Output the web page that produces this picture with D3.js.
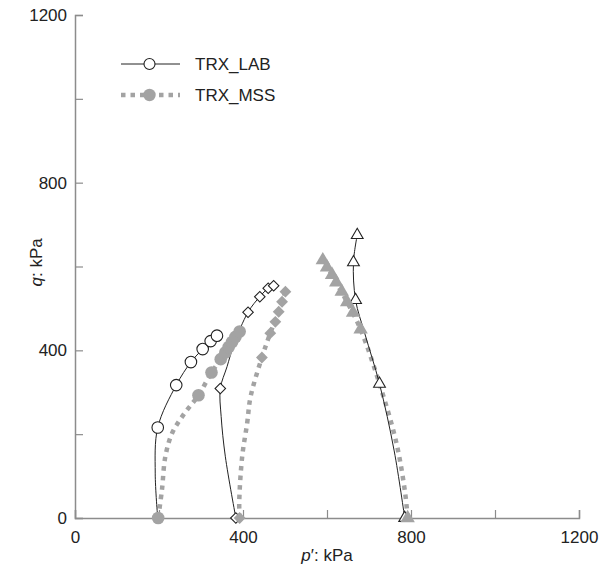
<!DOCTYPE html>
<html>
<head>
<meta charset="utf-8">
<script src="https://cdn.jsdelivr.net/npm/d3@7"></script>
<style>
  body { margin: 0; background: #fff; }
  svg { font-family: "Liberation Sans", Arial, sans-serif; }
</style>
</head>
<body>
<svg id="chart" width="600" height="570"></svg>
<script>
// markers, [p', q] in kPa
const labCircles = [[197, 216], [241, 317], [276, 372], [304, 403], [323, 422], [338, 435]];
const labDiamonds = [[383, 0], [346, 309], [412, 491], [440, 528], [460, 548], [473, 554]];
const labTriangles = [[785, 0], [725, 320], [668, 520], [663, 610], [672, 675]];
const mssCircles = [[198, 0], [294, 293], [325, 347], [347, 379], [358, 395], [366, 408], [374, 420], [382, 432], [392, 445]];
const mssDiamonds = [[392, 0], [445, 383], [465, 441], [477, 468], [485, 492], [493, 516], [501, 540]];
const mssTriangles = [[792, 0], [680, 450], [662, 490], [648, 515], [635, 540], [622, 562], [612, 580], [600, 598], [590, 615]];

// curves
const labCirclesCurve = [[197, 0], [191, 107], [197, 216], [241, 317], [276, 372], [304, 403], [323, 422], [338, 435]];
const labDiamondsCurve = [[383, 0], [358, 146], [348, 242], [346, 309], [362, 361], [378, 413], [412, 491], [440, 528], [460, 548], [473, 554]];
const labTrianglesCurve = [[785, 0], [760, 160], [725, 320], [690, 440], [668, 520], [663, 610], [672, 675]];
const mssCirclesCurve = [[198, 0], [207, 67], [215, 146], [231, 202], [258, 246], [294, 293], [325, 347], [347, 379], [392, 445]];
const mssDiamondsCurve = [[392, 0], [391, 36], [398, 146], [410, 227], [418, 289], [445, 383], [465, 441], [485, 492], [501, 540]];
const mssTrianglesCurve = [[792, 0], [786, 60], [765, 180], [725, 320], [680, 450], [648, 515], [622, 562], [590, 620]];

const xTicks = [0, 200, 400, 600, 800, 1000, 1200];
const yTicks = [0, 200, 400, 600, 800, 1000, 1200];
const legendNames = ["TRX_LAB", "TRX_MSS"];

const svg = d3.select("#chart");
const layout = { left: 75, right: 579, top: 15, bottom: 518 };

const x = d3.scaleLinear().domain([0, 1200]).range([layout.left, layout.right]);
const y = d3.scaleLinear().domain([0, 1200]).range([layout.bottom, layout.top]);

const axisColor = "#8c8c8c";
const grayColor = "#a3a3a3";
const labelFmt = d => (d % 400 === 0 ? d : "");

// axes
const xAxis = svg.append("g")
    .attr("transform", "translate(0," + layout.bottom + ")")
    .call(d3.axisBottom(x).tickValues(xTicks).tickSize(-8).tickPadding(20).tickFormat(labelFmt));
const yAxis = svg.append("g")
    .attr("transform", "translate(" + layout.left + ",0)")
    .call(d3.axisLeft(y).tickValues(yTicks).tickSize(-8).tickPadding(8).tickFormat(labelFmt));

[xAxis, yAxis].forEach(function(a) {
    a.select(".domain").attr("stroke", axisColor).attr("stroke-width", 1.5);
    a.selectAll(".tick line").attr("stroke", axisColor).attr("stroke-width", 1.2);
    a.selectAll("text").attr("fill", "#222").style("font-size", "17px");
});
xAxis.selectAll("text").attr("dy", "0.3em");

// axis titles
svg.append("text")
    .attr("x", (layout.left + layout.right) / 2)
    .attr("y", 561)
    .attr("text-anchor", "middle")
    .attr("fill", "#222")
    .style("font-size", "17px")
    .html('<tspan font-style="italic">p</tspan>′: kPa');

svg.append("text")
    .attr("transform", "translate(42," + y(610) + ") rotate(-90)")
    .attr("text-anchor", "middle")
    .attr("fill", "#222")
    .style("font-size", "17px")
    .html('<tspan font-style="italic">q</tspan>: kPa');

const line = d3.line().x(d => x(d[0])).y(d => y(d[1])).curve(d3.curveCatmullRom.alpha(0.5));

// model (MSS) curves: thick gray dotted
[mssCirclesCurve, mssDiamondsCurve, mssTrianglesCurve].forEach(function(c) {
    svg.append("path")
        .attr("d", line(c))
        .attr("fill", "none")
        .attr("stroke", grayColor)
        .attr("stroke-width", 4.5)
        .attr("stroke-dasharray", "4.5,5");
});

// lab curves: thin black
[labCirclesCurve, labDiamondsCurve, labTrianglesCurve].forEach(function(c) {
    svg.append("path")
        .attr("d", line(c))
        .attr("fill", "none")
        .attr("stroke", "#222")
        .attr("stroke-width", 1);
});

function drawMarkers(data, type, size, filled, rot) {
    svg.append("g").selectAll("path")
        .data(data).enter()
        .append("path")
        .attr("transform", d => "translate(" + x(d[0]) + "," + y(d[1]) + ") rotate(" + (rot || 0) + ")")
        .attr("d", d3.symbol().type(type).size(size))
        .attr("fill", filled ? grayColor : "#fff")
        .attr("stroke", filled ? "none" : "#222")
        .attr("stroke-width", 1.1);
}

drawMarkers(labCircles, d3.symbolCircle, 105, false);
drawMarkers(labDiamonds, d3.symbolSquare, 55, false, 45);
drawMarkers(labTriangles, d3.symbolTriangle, 60, false);
drawMarkers(mssCircles, d3.symbolCircle, 125, true);
drawMarkers(mssDiamonds, d3.symbolSquare, 70, true, 45);
drawMarkers(mssTriangles, d3.symbolTriangle, 90, true);

// legend
const legend = svg.append("g").attr("transform", "translate(121,0)");
const legendY = [64, 95];
legend.append("line")
    .attr("x1", 0).attr("x2", 59).attr("y1", legendY[0]).attr("y2", legendY[0])
    .attr("stroke", "#222").attr("stroke-width", 1);
legend.append("circle")
    .attr("cx", 28.5).attr("cy", legendY[0]).attr("r", 5.5)
    .attr("fill", "#fff").attr("stroke", "#222").attr("stroke-width", 1.1);
legend.append("line")
    .attr("x1", 0).attr("x2", 59).attr("y1", legendY[1]).attr("y2", legendY[1])
    .attr("stroke", grayColor).attr("stroke-width", 4.5).attr("stroke-dasharray", "4.5,5");
legend.append("circle")
    .attr("cx", 28.5).attr("cy", legendY[1]).attr("r", 6.2)
    .attr("fill", grayColor);
legend.selectAll(".legendLabel")
    .data(legendNames).enter()
    .append("text")
    .attr("class", "legendLabel")
    .attr("x", 74)
    .attr("y", (d, i) => legendY[i])
    .attr("dy", "0.35em")
    .attr("fill", "#222")
    .style("font-size", "17px")
    .text(d => d);
</script>
</body>
</html>
